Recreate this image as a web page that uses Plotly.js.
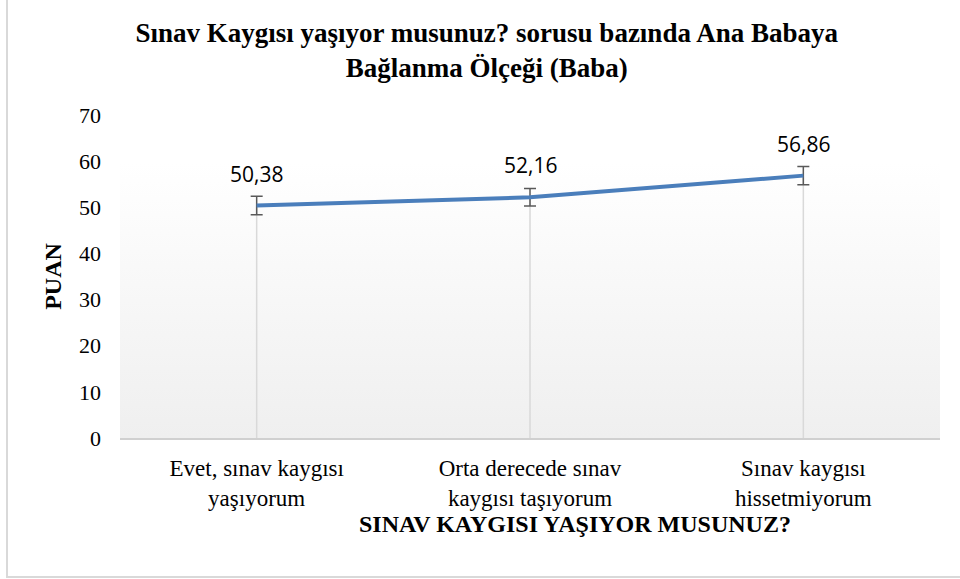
<!DOCTYPE html>
<html>
<head>
<meta charset="utf-8">
<script src="https://cdn.plot.ly/plotly-3.0.1.min.js"></script>
<style>
html,body{margin:0;padding:0;background:#fff;overflow:hidden;}
#chart{width:960px;height:579px;}
#frame{position:absolute;left:6px;top:-10px;width:970px;height:588px;border:2px solid #d9d9d9;box-sizing:border-box;pointer-events:none;}
</style>
</head>
<body>
<div id="chart"></div>
<div id="frame"></div>
<script>
const categories = ["Evet, sınav kaygısı<br>yaşıyorum", "Orta derecede sınav<br>kaygısı taşıyorum", "Sınav kaygısı<br>hissetmiyorum"];
const values = [50.38, 52.16, 56.86];
const errors = [2.0, 1.9, 2.0];
const yTicks = [0, 10, 20, 30, 40, 50, 60, 70];

const serif = "'Liberation Serif', 'Times New Roman', serif";
const sans = "'Open Sans', 'Liberation Sans', sans-serif";

const gradSvg = "<svg xmlns='http://www.w3.org/2000/svg' width='10' height='100' preserveAspectRatio='none'><defs><linearGradient id='g' x1='0' y1='0' x2='0' y2='1'><stop offset='0' stop-color='#ffffff'/><stop offset='0.15' stop-color='#ffffff'/><stop offset='1' stop-color='#efefef'/></linearGradient></defs><rect width='10' height='100' fill='url(#g)'/></svg>";
const gradUri = "data:image/svg+xml;base64," + btoa(gradSvg);

const dropLines = {
  x: categories, y: values, type: 'scatter', mode: 'markers',
  marker: {size: 1, color: 'rgba(0,0,0,0)'},
  error_y: {type: 'data', symmetric: false, array: values.map(() => 0), arrayminus: values, color: '#d9d9d9', thickness: 1.5, width: 0},
  hoverinfo: 'skip', showlegend: false
};
const line = {
  x: categories, y: values, type: 'scatter', mode: 'lines',
  line: {color: '#4a7ebb', width: 4},
  error_y: {type: 'data', array: errors, visible: true, color: '#595959', thickness: 1.5, width: 6},
  showlegend: false
};

const annotations = values.map((v, i) => ({
  x: categories[i], y: v, xref: 'x', yref: 'y',
  text: v.toFixed(2).replace('.', ','), showarrow: false,
  yshift: 32, font: {family: sans, size: 21, color: '#000'}
}));
annotations.push({
  text: '<b>SINAV KAYGISI YAŞIYOR MUSUNUZ?</b>', xref: 'paper', yref: 'paper',
  x: 0.555, y: -0.266, xanchor: 'center', yanchor: 'middle', showarrow: false,
  font: {family: serif, size: 24, color: '#000'}
});

const layout = {
  width: 960, height: 579,
  margin: {l: 120, r: 20, t: 115, b: 141},
  paper_bgcolor: '#ffffff', plot_bgcolor: 'rgba(0,0,0,0)',
  title: {
    text: '<b>Sınav Kaygısı yaşıyor musunuz? sorusu bazında Ana Babaya<br>Bağlanma Ölçeği (Baba)</b>',
    x: 0.507, xref: 'container', xanchor: 'center', y: 0.927, yanchor: 'top',
    font: {family: serif, size: 27, color: '#000'}
  },
  images: [{source: gradUri, xref: 'paper', yref: 'paper', x: 0, y: 1, sizex: 1, sizey: 1, sizing: 'stretch', xanchor: 'left', yanchor: 'top', layer: 'below'}],
  xaxis: {
    type: 'category', range: [-0.5, 2.5], showgrid: false, zeroline: false,
    showline: true, linecolor: '#d0d0d0', linewidth: 1.5,
    ticks: '', ticklabelstandoff: 9,
    tickfont: {family: serif, size: 23, color: '#000'}
  },
  yaxis: {
    range: [0, 70], tickvals: yTicks, ticktext: yTicks.map(String),
    showgrid: false, zeroline: false, showline: false, ticks: '',
    ticklabelstandoff: 18,
    tickfont: {family: serif, size: 22, color: '#000'},
    title: {text: '<b>PUAN</b>', standoff: 10, font: {family: serif, size: 24, color: '#000'}}
  },
  annotations: annotations,
  showlegend: false
};

Plotly.newPlot('chart', [dropLines, line], layout, {staticPlot: true});
</script>
</body>
</html>
